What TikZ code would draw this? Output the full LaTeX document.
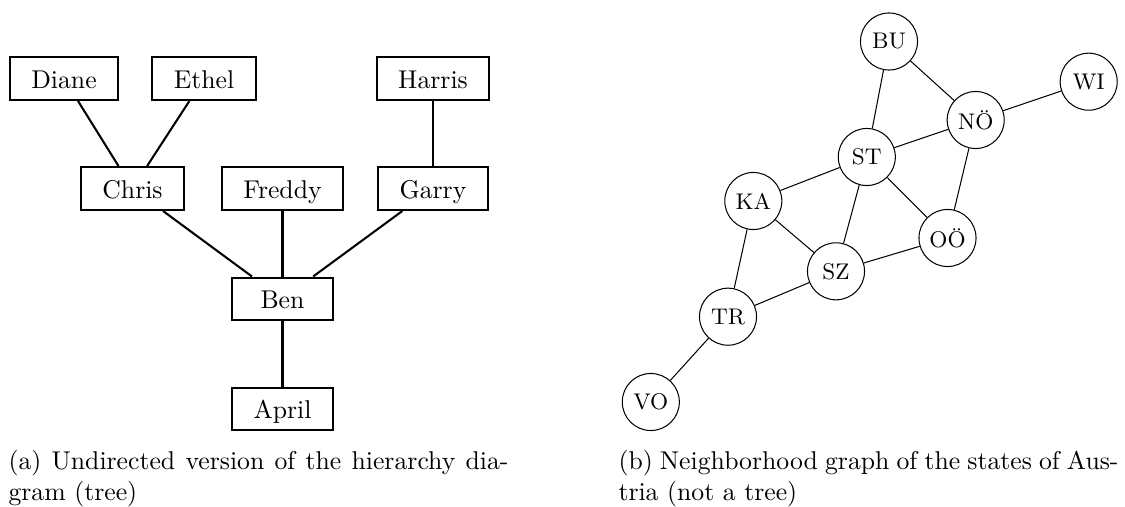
\documentclass[tikz,border=0pt]{standalone}
\begin{document}
\begin{tikzpicture}[x=0.389pt, y=-0.389pt,
  tbox/.style={draw, thick, minimum width=39.3pt, minimum height=16.7pt,
    inner xsep=8.35pt, text height=7.6pt, text depth=0pt},
  tedge/.style={thick},
  stnode/.style={draw, circle, minimum size=22.2pt, inner sep=0pt,
    font=\fontsize{8.8}{10}\selectfont},
  gedge/.style={thin},
  caption/.style={anchor=north west, inner sep=0pt, text width=194.5pt, align=justify}]
\useasboundingbox (0,0) rectangle (1125,507);

% (a) hierarchy as an undirected tree
\node[tbox] (diane)  at (64,78.5)    {Diane};
\node[tbox] (ethel)  at (204,78.5)   {Ethel};
\node[tbox] (harris) at (433,78.5)   {Harris};
\node[tbox] (chris)  at (132.5,188.5){Chris};
\node[tbox] (freddy) at (282.5,188.5){Freddy};
\node[tbox] (garry)  at (433,188.5)  {Garry};
\node[tbox] (ben)    at (282.5,299)  {Ben};
\node[tbox] (april)  at (282.5,409)  {April};
\draw[tedge] (diane) -- (chris);
\draw[tedge] (ethel) -- (chris);
\draw[tedge] (harris) -- (garry);
\draw[tedge] (chris) -- (ben);
\draw[tedge] (freddy) -- (ben);
\draw[tedge] (garry) -- (ben);
\draw[tedge] (ben) -- (april);

% (b) neighbouring Austrian states
\node[stnode] (bu) at (889,41.5)    {BU};
\node[stnode] (wi) at (1088.7,81.7) {WI};
\node[stnode] (no) at (975.7,120)   {NÖ};
\node[stnode] (st) at (866.8,157)   {ST};
\node[stnode] (ka) at (753.3,201)   {KA};
\node[stnode] (oo) at (947.5,238)   {OÖ};
\node[stnode] (sz) at (836,271.3)   {SZ};
\node[stnode] (tr) at (728,316.7)   {TR};
\node[stnode] (vo) at (650.8,402)   {VO};
\draw[gedge] (bu) -- (st);
\draw[gedge] (bu) -- (no);
\draw[gedge] (no) -- (wi);
\draw[gedge] (no) -- (st);
\draw[gedge] (no) -- (oo);
\draw[gedge] (st) -- (ka);
\draw[gedge] (st) -- (sz);
\draw[gedge] (st) -- (oo);
\draw[gedge] (ka) -- (sz);
\draw[gedge] (ka) -- (tr);
\draw[gedge] (oo) -- (sz);
\draw[gedge] (sz) -- (tr);
\draw[gedge] (tr) -- (vo);

% sub-captions
\node[caption] (capa) at (8,449.7)
  {(a) Undirected version of the hierarchy dia-\linebreak gram (tree)};
\node[caption] (capb) at (618,449.7)
  {(b) Neighborhood graph of the states of Aus-\linebreak tria (not a tree)};
\end{tikzpicture}
\end{document}
